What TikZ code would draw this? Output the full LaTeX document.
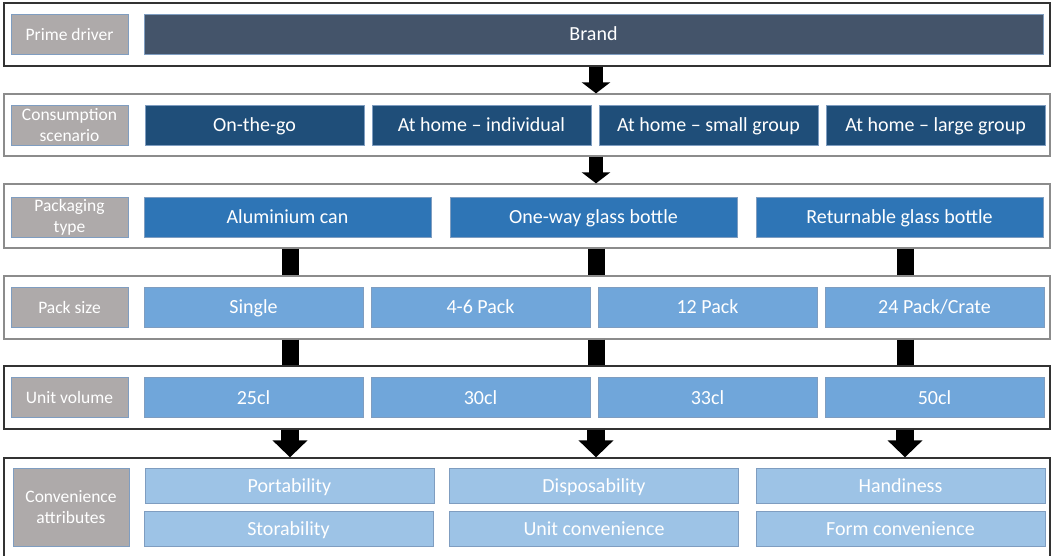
\documentclass[tikz,border=0pt]{standalone}
\usepackage{fontspec}
\setmainfont{Carlito}
\usetikzlibrary{arrows.meta}
\definecolor{labelgray}{HTML}{AEAAAA}
\definecolor{cellline}{HTML}{7F9DC0}
\definecolor{brandblue}{HTML}{44546A}
\definecolor{scenblue}{HTML}{1F4E79}
\definecolor{packblue}{HTML}{2E75B6}
\definecolor{sizeblue}{HTML}{70A6DA}
\definecolor{convblue}{HTML}{9DC3E6}

\tikzset{
  rowbox/.style={draw=#1, line width=1.3pt, inner sep=0pt},
  lbl/.style={fill=labelgray, draw=cellline, line width=0.8pt, text=white, align=center,
    minimum width=117pt, minimum height=40pt, inner sep=0pt, font=\fontsize{17.5}{21}\selectfont},
  cell/.style={fill=#1, draw=cellline, line width=0.8pt, text=white, inner sep=0pt,
    minimum height=40pt, text height=15pt, text depth=2pt, font=\fontsize{20}{23}\selectfont},
  smallarrow/.style={line width=14pt, -{Triangle[width=28pt,length=11pt]}},
  bigarrow/.style={line width=18pt, -{Triangle[width=34pt,length=17pt]}},
  bar/.style={line width=17pt}
}

\begin{document}
\begin{tikzpicture}[x=1pt,y=-1pt]
\useasboundingbox (0,0) rectangle (1052,555);

% outer rows
\node[rowbox=black!80, minimum width=1046pt, minimum height=63pt] (row1) at (527,34.5) {};
\node[rowbox=black!45, minimum width=1046pt, minimum height=62pt] (row2) at (527,125) {};
\node[rowbox=black!45, minimum width=1046pt, minimum height=64pt] (row3) at (527,216) {};
\node[rowbox=black!45, minimum width=1046pt, minimum height=63pt] (row4) at (527,307.5) {};
\node[rowbox=black!80, minimum width=1046pt, minimum height=63pt] (row5) at (527,397.5) {};
\node[rowbox=black!80, minimum width=1046pt, minimum height=100pt] (row6) at (527,508) {};

% row labels
\node[lbl] (lab1) at (69.5,34) {Prime driver};
\node[lbl] (lab2) at (69.5,125) {Consumption\\scenario};
\node[lbl] (lab3) at (69.5,217) {Packaging\\type};
\node[lbl] (lab4) at (69.5,307) {Pack size};
\node[lbl] (lab5) at (69.5,397.5) {Unit volume};
\node[lbl, minimum width=116pt, minimum height=78pt] (lab6) at (71,507) {Convenience\\attributes};

% cells
\node[cell=brandblue, minimum width=899pt] (brand) at (593.5,34) {Brand};
\foreach \nm/\cx/\txt in {go/254.5/On-the-go, indiv/481.5/At home -- individual,
    small/708.5/At home -- small group, large/935.5/At home -- large group}
    \node[cell=scenblue, minimum width=219pt] (\nm) at (\cx,125) {\txt};
\foreach \nm/\cx/\txt in {can/287.5/Aluminium can, oneway/593.5/One-way glass bottle,
    ret/899.5/Returnable glass bottle}
    \node[cell=packblue, minimum width=287pt] (\nm) at (\cx,217) {\txt};
\foreach \nm/\cx/\txt in {single/253.5/Single, four/480.5/4-6 Pack,
    twelve/707.5/12 Pack, crate/934.5/{24 Pack/Crate}}
    \node[cell=sizeblue, minimum width=219pt] (\nm) at (\cx,307) {\txt};
\foreach \nm/\cx/\txt in {cl25/253.5/25cl, cl30/480.5/30cl, cl33/707.5/33cl, cl50/934.5/50cl}
    \node[cell=sizeblue, minimum width=219pt] (\nm) at (\cx,397.5) {\txt};
\foreach \nm/\cx/\cy/\txt in {port/289.5/485.5/Portability, stor/288.5/528.5/Storability,
    disp/594/485.5/Disposability, unit/594/528.5/Unit convenience,
    hand/900.5/485.5/Handiness, form/900.5/528.5/Form convenience}
    \node[cell=convblue, minimum width=289pt, minimum height=35pt] (\nm) at (\cx,\cy) {\txt};

% connectors
\coordinate (colA) at (290,0);
\coordinate (colB) at (596,0);
\coordinate (colC) at (905,0);
\draw[smallarrow] (row1.south -| colB) -- (row2.north -| colB);
\draw[smallarrow] (row2.south -| colB) -- (row3.north -| colB);
\foreach \c in {colA,colB,colC} {
  \draw[bar] (row3.south -| \c) -- (row4.north -| \c);
  \draw[bar] (row4.south -| \c) -- (row5.north -| \c);
  \draw[bigarrow] (row5.south -| \c) -- (row6.north -| \c);
}
\end{tikzpicture}
\end{document}
